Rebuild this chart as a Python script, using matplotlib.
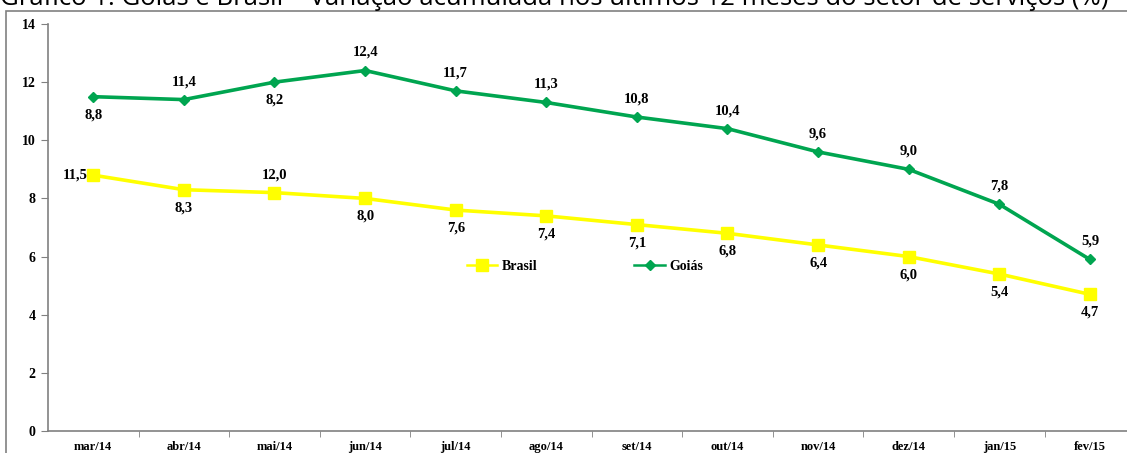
import matplotlib.pyplot as plt
from matplotlib.patches import Rectangle

meses = ['mar/14', 'abr/14', 'mai/14', 'jun/14', 'jul/14', 'ago/14',
         'set/14', 'out/14', 'nov/14', 'dez/14', 'jan/15', 'fev/15']
goias = [11.5, 11.4, 12.0, 12.4, 11.7, 11.3, 10.8, 10.4, 9.6, 9.0, 7.8, 5.9]
brasil = [8.8, 8.3, 8.2, 8.0, 7.6, 7.4, 7.1, 6.8, 6.4, 6.0, 5.4, 4.7]
# rótulos como aparecem no gráfico original
rot_goias = ['8,8', '11,4', '8,2', '12,4', '11,7', '11,3', '10,8', '10,4', '9,6', '9,0', '7,8', '5,9']
rot_brasil = ['11,5', '8,3', '12,0', '8,0', '7,6', '7,4', '7,1', '6,8', '6,4', '6,0', '5,4', '4,7']
pos_goias = ['below', 'above', 'below'] + ['above'] * 9
pos_brasil = ['left', 'below', 'above'] + ['below'] * 9

titulo = 'Gráfico 1: Goiás e Brasil – Variação acumulada nos últimos 12 meses do setor de serviços (%)'

W, H = 1127, 453
fig = plt.figure(figsize=(W / 100, H / 100), dpi=100)

# moldura externa (cortada à direita e embaixo)
fig.patches.append(Rectangle((6 / W, -0.2), 2, 1.2 - 11 / H, transform=fig.transFigure,
                             fill=False, edgecolor='#808080', linewidth=1.2))
fig.text(0.0, 1 - 5 / H, titulo, fontsize=18.5, family='Open Sans', va='baseline', ha='left',
         color='black')

cat_w = 90.6
ax = fig.add_axes([48 / W, (H - 431) / H, 12 * cat_w / W, (431 - 24) / H])
x = list(range(len(meses)))

ax.plot(x, brasil, color='#FFFF00', lw=2.6, marker='s', ms=9, label='Brasil', zorder=3)
ax.plot(x, goias, color='#00A550', lw=2.6, marker='D', ms=5.5, label='Goiás', zorder=3)

serif = 'Liberation Serif'
offsets = {'above': (0, 13, 'center', 'center'), 'below': (0, -13, 'center', 'center'),
           'left': (-4, 0, 'right', 'center')}
for vals, rots, poss in [(goias, rot_goias, pos_goias), (brasil, rot_brasil, pos_brasil)]:
    for i, (v, r, p) in enumerate(zip(vals, rots, poss)):
        dx, dy, ha, va = offsets[p]
        ax.annotate(r, (i, v), xytext=(dx, dy), textcoords='offset points', ha=ha, va=va,
                    fontsize=10.5, fontweight='bold', family=serif)

ax.set_xlim(-0.5, len(meses) - 0.5)
ax.set_ylim(0, 14)
ax.set_yticks(range(0, 15, 2))
ax.set_xticks(x)
ax.set_xticklabels(meses)
ax.set_xticks([i + 0.5 for i in range(len(meses) - 1)], minor=True)
ax.tick_params(axis='x', which='major', length=0, pad=7)
ax.tick_params(axis='x', which='minor', length=4, color='#808080')
ax.tick_params(axis='y', length=5, color='#808080', pad=4)
for lab in ax.get_xticklabels():
    lab.set_fontsize(9)
    lab.set_fontweight('bold')
    lab.set_family(serif)
for lab in ax.get_yticklabels():
    lab.set_fontsize(10)
    lab.set_fontweight('bold')
    lab.set_family(serif)

for s in ['top', 'right']:
    ax.spines[s].set_visible(False)
for s in ['left', 'bottom']:
    ax.spines[s].set_color('#808080')
    ax.spines[s].set_linewidth(1.2)

leg = ax.legend(loc='center', bbox_to_anchor=((585 - 48) / (12 * cat_w), (431 - 266) / (431 - 24)),
                ncol=2, frameon=False, columnspacing=7, handlelength=2.2, handletextpad=0.3,
                prop={'family': serif, 'weight': 'bold', 'size': 10})
for h in leg.legend_handles:
    h.set_linewidth(1.8)

fig.savefig('out.png', dpi=100)
